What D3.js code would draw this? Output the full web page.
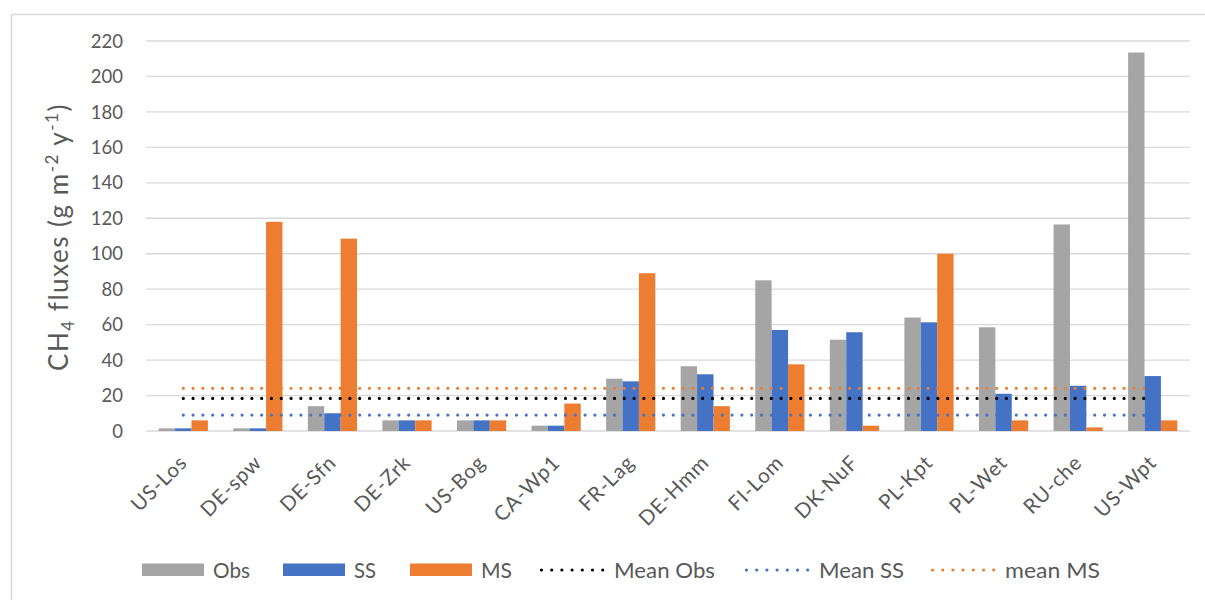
<!DOCTYPE html>
<html>
<head>
<meta charset="utf-8">
<script src="https://cdn.jsdelivr.net/npm/d3@7"></script>
<style>
  body { margin: 0; background: #fff; }
  text { font-family: Lato, "Open Sans", sans-serif; fill: #595959; }
</style>
</head>
<body>
<div class="grafico"></div>
<script>
// dati
var siti = ["US-Los", "DE-spw", "DE-Sfn", "DE-Zrk", "US-Bog", "CA-Wp1", "FR-Lag",
            "DE-Hmm", "FI-Lom", "DK-NuF", "PL-Kpt", "PL-Wet", "RU-che", "US-Wpt"];
var obs = [1.5, 1.5, 14, 6, 6, 3, 29.5, 36.5, 85, 51.5, 64, 58.5, 116.5, 213.5];
var ss  = [1.5, 1.5, 10, 6, 6, 3, 28, 32, 57, 55.7, 61.3, 21, 25.5, 31];
var ms  = [6, 118, 108.5, 6, 6, 15.5, 89, 14, 37.6, 3, 100, 6, 2, 6];
var meanObs = 18.4, meanSS = 9, meanMS = 24.1;
var serieBarre = ["Obs", "SS", "MS"];
var colori = { Obs: "#a5a5a5", SS: "#4472c4", MS: "#ed7d31" };

var w = 1205,
    h = 600;

var svg = d3.select(".grafico")
  .append("svg")
  .attr("width", w)
  .attr("height", h);

// cornice del grafico
svg.append("rect")
  .attr("x", 11.5).attr("y", 14.5)
  .attr("width", 1300).attr("height", 700)
  .attr("fill", "none")
  .attr("stroke", "#d9d9d9")
  .attr("stroke-width", 1.5);

var mSx = 146, mDx = 1190, mSu = 41, mGiu = 431;

var x = d3.scaleBand().domain(siti).range([mSx, mDx]).padding(0);
var xInterno = d3.scaleBand().domain(serieBarre)
  .range([x.bandwidth() * 0.17, x.bandwidth() * 0.83]).padding(0);
var y = d3.scaleLinear().domain([0, 220]).range([mGiu, mSu]);

// griglia orizzontale
svg.append("g")
  .selectAll("line")
  .data(y.ticks(11))
  .enter().append("line")
  .attr("x1", mSx).attr("x2", mDx)
  .attr("y1", function (d) { return y(d); })
  .attr("y2", function (d) { return y(d); })
  .attr("stroke", "#d9d9d9")
  .attr("stroke-width", 1.3);

// etichette asse y
svg.append("g")
  .selectAll("text")
  .data(y.ticks(11))
  .enter().append("text")
  .attr("x", 123)
  .attr("y", function (d) { return y(d); })
  .attr("dy", "0.36em")
  .attr("text-anchor", "end")
  .style("font-size", "18.5px")
  .text(function (d) { return d; });

// barre
var valori = { Obs: obs, SS: ss, MS: ms };
var gruppi = svg.append("g")
  .selectAll("g")
  .data(siti)
  .enter().append("g")
  .attr("transform", function (d) { return "translate(" + x(d) + ",0)"; });

gruppi.selectAll("rect")
  .data(function (d, i) {
    return serieBarre.map(function (s) { return { serie: s, v: valori[s][i] }; });
  })
  .enter().append("rect")
  .attr("x", function (d) { return xInterno(d.serie); })
  .attr("width", xInterno.bandwidth())
  .attr("y", function (d) { return y(d.v); })
  .attr("height", function (d) { return y(0) - y(d.v); })
  .attr("fill", function (d) { return colori[d.serie]; });

// linee delle medie
var medie = [
  { nome: "Mean Obs", v: meanObs, col: "#000000" },
  { nome: "Mean SS", v: meanSS, col: "#4472c4" },
  { nome: "mean MS", v: meanMS, col: "#ed7d31" }
];
var linea = d3.line()
  .x(function (d) { return x(d.sito) + x.bandwidth() / 2; })
  .y(function (d) { return y(d.v); });

svg.append("g")
  .selectAll("path")
  .data(medie)
  .enter().append("path")
  .attr("d", function (m) {
    return linea(siti.map(function (s) { return { sito: s, v: m.v }; }));
  })
  .attr("fill", "none")
  .attr("stroke", function (m) { return m.col; })
  .attr("stroke-width", 3.2)
  .attr("stroke-linecap", "round")
  .attr("stroke-dasharray", "0 9.8");

// etichette asse x
svg.append("g")
  .selectAll("text")
  .data(siti)
  .enter().append("text")
  .attr("transform", function (d) {
    return "translate(" + (x(d) + x.bandwidth() / 2 + 5) + ",464) rotate(-45)";
  })
  .attr("text-anchor", "end")
  .style("font-size", "20.5px")
  .style("letter-spacing", "0.8px")
  .text(function (d) { return d; });

// titolo asse y
var titolo = svg.append("text")
  .attr("transform", "translate(68,237) rotate(-90)")
  .attr("text-anchor", "middle")
  .style("font-size", "26px")
  .style("letter-spacing", "1.5px");
titolo.append("tspan").text("CH");
titolo.append("tspan").attr("dy", 6).style("font-size", "17px").text("4");
titolo.append("tspan").attr("dy", -6).text(" fluxes (g m");
titolo.append("tspan").attr("dy", -10).style("font-size", "17px").text("-2");
titolo.append("tspan").attr("dy", 10).text(" y");
titolo.append("tspan").attr("dy", -10).style("font-size", "17px").text("-1");
titolo.append("tspan").attr("dy", 10).text(")");

// legenda
var legenda = [
  { nome: "Obs", tipo: "barra", col: "#a5a5a5", x: 142, lt: 37 },
  { nome: "SS", tipo: "barra", col: "#4472c4", x: 283, lt: 22 },
  { nome: "MS", tipo: "barra", col: "#ed7d31", x: 410, lt: 31 },
  { nome: "Mean Obs", tipo: "linea", col: "#000000", x: 540, lt: 101 },
  { nome: "Mean SS", tipo: "linea", col: "#4472c4", x: 745, lt: 85 },
  { nome: "mean MS", tipo: "linea", col: "#ed7d31", x: 931, lt: 95 }
];
var voci = svg.append("g").selectAll("g")
  .data(legenda)
  .enter().append("g")
  .attr("transform", function (d) { return "translate(" + d.x + ",570)"; });

voci.filter(function (d) { return d.tipo == "barra"; })
  .append("rect")
  .attr("x", 0).attr("y", -6.5)
  .attr("width", 62).attr("height", 12.5)
  .attr("fill", function (d) { return d.col; });

voci.filter(function (d) { return d.tipo == "linea"; })
  .append("line")
  .attr("x1", 1.5).attr("x2", 63).attr("y1", 0).attr("y2", 0)
  .attr("stroke", function (d) { return d.col; })
  .attr("stroke-width", 3.2)
  .attr("stroke-linecap", "round")
  .attr("stroke-dasharray", "0 10.2");

voci.append("text")
  .attr("x", function (d) { return d.tipo == "barra" ? 71 : 74; })
  .attr("y", 0)
  .attr("dy", "0.36em")
  .attr("textLength", function (d) { return d.lt; })
  .attr("lengthAdjust", "spacingAndGlyphs")
  .style("font-size", "21.5px")
  .text(function (d) { return d.nome; });
</script>
</body>
</html>
